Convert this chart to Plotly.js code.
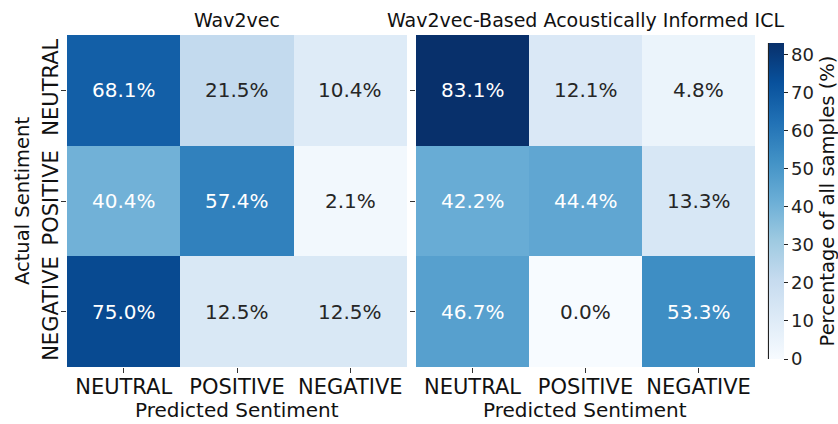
<!DOCTYPE html>
<html>
<head>
<meta charset="utf-8">
<script src="https://cdn.plot.ly/plotly-3.0.1.min.js"></script>
<style>html,body{margin:0;padding:0;background:#fff}#chart{width:838px;height:424px}</style>
</head>
<body>
<div id="chart"></div>
<script>
const predicted = ["NEUTRAL", "POSITIVE", "NEGATIVE"];
const actual = ["NEUTRAL", "POSITIVE", "NEGATIVE"];
const wav2vec = [
  [68.1, 21.5, 10.4],
  [40.4, 57.4, 2.1],
  [75.0, 12.5, 12.5]
];
const icl = [
  [83.1, 12.1, 4.8],
  [42.2, 44.4, 13.3],
  [46.7, 0.0, 53.3]
];
const panelTitles = ["Wav2vec", "Wav2vec-Based Acoustically Informed ICL"];
const colorTicks = [0, 10, 20, 30, 40, 50, 60, 70, 80];

const blues = [
  [0.0, "#f7fbff"], [0.125, "#deebf7"], [0.25, "#c6dbef"], [0.375, "#9ecae1"],
  [0.5, "#6baed6"], [0.625, "#4292c6"], [0.75, "#2171b5"], [0.875, "#08519c"], [1.0, "#08306b"]
];
const allVals = wav2vec.flat().concat(icl.flat());
const zmin = Math.min(...allVals), zmax = Math.max(...allVals);
const FONT = "DejaVu Sans";
const CB_X = 769;

const traces = [
  {type: "heatmap", x: predicted, y: actual, z: wav2vec, xaxis: "x", yaxis: "y",
   colorscale: blues, zmin: zmin, zmax: zmax, showscale: false, hoverinfo: "skip"},
  {type: "heatmap", x: predicted, y: actual, z: icl, xaxis: "x2", yaxis: "y2",
   colorscale: blues, zmin: zmin, zmax: zmax, showscale: true, hoverinfo: "skip",
   colorbar: {x: CB_X/838, xanchor: "left", xpad: 0, ypad: 0, y: 1 - 201/424, yanchor: "middle",
     len: 316/424, lenmode: "fraction", thickness: 15, thicknessmode: "pixels",
     outlinewidth: 0, ticks: "outside", ticklen: 4, tickcolor: "#222", tickwidth: 1,
     tickvals: colorTicks, ticklabelposition: "outside",
     tickfont: {family: FONT, size: 18, color: "#222"},
     title: {text: "Percentage of all samples (%)", side: "right", font: {family: FONT, size: 19.5, color: "#111"}}}}
];

const annotations = [];
[[wav2vec, "x", "y"], [icl, "x2", "y2"]].forEach(([m, xa, ya]) => {
  m.forEach((row, i) => row.forEach((v, j) => {
    annotations.push({xref: xa, yref: ya, x: predicted[j], y: actual[i], text: v.toFixed(1) + "%",
      showarrow: false, font: {family: FONT, size: 20, color: v > 30 ? "#ffffff" : "#262626"}});
  }));
});
const centers = [237/838, 585/838];
panelTitles.forEach((t, k) => annotations.push({xref: "paper", yref: "paper", x: centers[k], y: 1 - 20/424,
  text: t, showarrow: false, xanchor: "center", yanchor: "middle", font: {family: FONT, size: 19, color: "#111"}}));
centers.forEach(c => annotations.push({xref: "paper", yref: "paper", x: c, y: 1 - 410/424,
  text: "Predicted Sentiment", showarrow: false, xanchor: "center", yanchor: "middle", font: {family: FONT, size: 20, color: "#111"}}));
annotations.push({xref: "paper", yref: "paper", x: 22/838, y: 1 - 201/424, text: "Actual Sentiment",
  textangle: -90, showarrow: false, xanchor: "center", yanchor: "middle", font: {family: FONT, size: 19.5, color: "#111"}});

const axCommon = {ticks: "outside", ticklen: 5, tickcolor: "#333", showgrid: false, zeroline: false,
  showline: false, tickfont: {family: FONT, size: 21, color: "#111"}, fixedrange: true};
const yDom = [1 - 367/424, 1 - 35/424];

const layout = {
  width: 838, height: 424, margin: {l: 0, r: 0, t: 0, b: 0, autoexpand: false},
  paper_bgcolor: "#fff", plot_bgcolor: "#fff", showlegend: false,
  font: {family: FONT},
  xaxis: Object.assign({}, axCommon, {domain: [67/838, 407/838], anchor: "y", ticklabelstandoff: -4}),
  yaxis: Object.assign({}, axCommon, {domain: yDom, anchor: "x", autorange: "reversed", tickangle: -90, ticklabelstandoff: -5}),
  xaxis2: Object.assign({}, axCommon, {domain: [416/838, 755/838], anchor: "y2", ticklabelstandoff: -4}),
  yaxis2: Object.assign({}, axCommon, {domain: yDom, anchor: "x2", autorange: "reversed", showticklabels: false}),
  annotations: annotations,
  shapes: [{type: "line", xref: "paper", yref: "paper", x0: (CB_X - 0.5)/838, x1: (CB_X - 0.5)/838,
    y0: 1 - 359/424, y1: 1 - 43/424, line: {color: "#222", width: 1.2}}]
};

Plotly.newPlot("chart", traces, layout, {displayModeBar: false, staticPlot: true});
</script>
</body>
</html>
